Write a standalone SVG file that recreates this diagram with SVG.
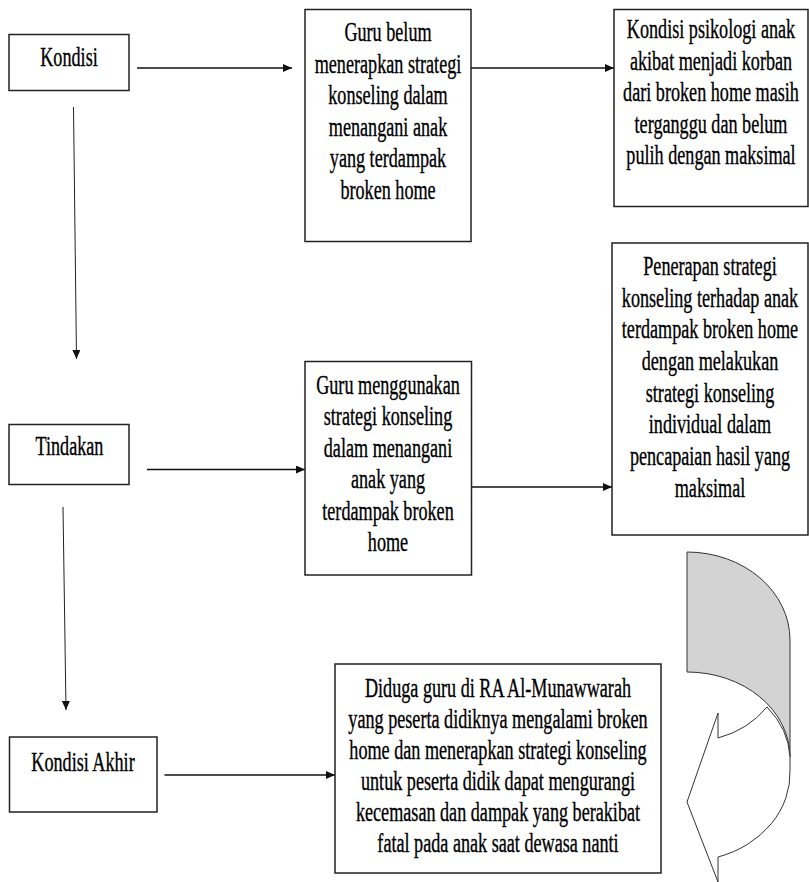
<svg xmlns="http://www.w3.org/2000/svg" width="809" height="882" viewBox="0 0 809 882">
<defs>
<style>
.box{fill:#fff;stroke:#222;stroke-width:1.5}
.t{font-family:'Liberation Serif','Times New Roman',serif;font-size:26.5px;fill:#000;stroke:#000;stroke-width:0.35;text-anchor:middle}
.c{stroke:#111;stroke-width:1.5;fill:none}
.cv{stroke:#222;stroke-width:1;fill:none}
</style>
<marker id="ah" viewBox="0 0 9 8" refX="9" refY="4" markerWidth="9" markerHeight="8" markerUnits="userSpaceOnUse" orient="auto">
<path d="M0,0 L9,4 L0,8 z" fill="#111"/>
</marker>
</defs>
<rect width="809" height="882" fill="#fff"/>

<g id="connectors">
<line class="c" x1="137" y1="68" x2="292" y2="68" marker-end="url(#ah)"/>
<line class="c" x1="471" y1="68" x2="614" y2="68" marker-end="url(#ah)"/>
<line class="cv" x1="73.5" y1="107" x2="76.5" y2="359" marker-end="url(#ah)"/>
<line class="c" x1="147" y1="469.5" x2="305" y2="469.5" marker-end="url(#ah)"/>
<line class="c" x1="471.5" y1="487" x2="612" y2="487" marker-end="url(#ah)"/>
<line class="cv" x1="63" y1="507" x2="66" y2="710" marker-end="url(#ah)"/>
<line class="c" x1="164.5" y1="775" x2="335" y2="775" marker-end="url(#ah)"/>
</g>

<g id="kondisi">
<rect class="box" x="9" y="34.5" width="120" height="56"/>
<g transform="matrix(0.685 0 0 1 69 0)"><text class="t" x="0" y="66.5">Kondisi</text></g>
</g>

<g id="guru-belum">
<rect class="box" x="305" y="9.5" width="166" height="232"/>
<g transform="matrix(0.685 0 0 1 388 0)">
<text class="t" x="0" y="41.5">Guru belum</text>
<text class="t" x="0" y="73">menerapkan strategi</text>
<text class="t" x="0" y="104.5">konseling dalam</text>
<text class="t" x="0" y="136">menangani anak</text>
<text class="t" x="0" y="167.5">yang terdampak</text>
<text class="t" x="0" y="199">broken home</text>
</g>
</g>

<g id="kondisi-psikologi">
<rect class="box" x="614" y="9.5" width="194" height="197"/>
<g transform="matrix(0.685 0 0 1 711 0)">
<text class="t" x="0" y="38.5">Kondisi psikologi anak</text>
<text class="t" x="0" y="70">akibat menjadi korban</text>
<text class="t" x="0" y="101.5">dari broken home masih</text>
<text class="t" x="0" y="133">terganggu dan belum</text>
<text class="t" x="0" y="164.5">pulih dengan maksimal</text>
</g>
</g>

<g id="tindakan">
<rect class="box" x="9" y="424.5" width="120" height="60"/>
<g transform="matrix(0.685 0 0 1 69.5 0)"><text class="t" x="0" y="455">Tindakan</text></g>
</g>

<g id="guru-menggunakan">
<rect class="box" x="305" y="361.5" width="166.5" height="213.5"/>
<g transform="matrix(0.685 0 0 1 388 0)">
<text class="t" x="0" y="394">Guru menggunakan</text>
<text class="t" x="0" y="425.5">strategi konseling</text>
<text class="t" x="0" y="457">dalam menangani</text>
<text class="t" x="0" y="488.5">anak yang</text>
<text class="t" x="0" y="520">terdampak broken</text>
<text class="t" x="0" y="551.5">home</text>
</g>
</g>

<g id="penerapan">
<rect class="box" x="612" y="243" width="196" height="292"/>
<g transform="matrix(0.685 0 0 1 710 0)">
<text class="t" x="0" y="275">Penerapan strategi</text>
<text class="t" x="0" y="306.7">konseling terhadap anak</text>
<text class="t" x="0" y="338.3">terdampak broken home</text>
<text class="t" x="0" y="370">dengan melakukan</text>
<text class="t" x="0" y="401.7">strategi konseling</text>
<text class="t" x="0" y="433.3">individual dalam</text>
<text class="t" x="0" y="465">pencapaian hasil yang</text>
<text class="t" x="0" y="496.7">maksimal</text>
</g>
</g>

<g id="kondisi-akhir">
<rect class="box" x="9.5" y="737" width="147.5" height="75"/>
<g transform="matrix(0.685 0 0 1 83 0)"><text class="t" x="0" y="771">Kondisi Akhir</text></g>
</g>

<g id="diduga">
<rect class="box" x="335" y="664" width="326" height="209"/>
<g transform="matrix(0.685 0 0 1 498 0)">
<text class="t" x="0" y="696.7">Diduga guru di RA Al-Munawwarah</text>
<text class="t" x="0" y="727.7">yang peserta didiknya mengalami broken</text>
<text class="t" x="0" y="759">home dan menerapkan strategi konseling</text>
<text class="t" x="0" y="790">untuk peserta didik dapat mengurangi</text>
<text class="t" x="0" y="821">kecemasan dan dampak yang berakibat</text>
<text class="t" x="0" y="852">fatal pada anak saat dewasa nanti</text>
</g>
</g>

<g id="cycle-arrow" stroke="#333" stroke-width="1">
<path d="M687,552 A103,88 0 0 1 790,640 L790,757 A103,85 0 0 0 687,672 Z" fill="#d3d3d3"/>
<path d="M718,738 Q748,730 767,707 A103,85 0 0 1 790,757 L790,770 A103,88 0 0 1 718,857 L718,882 L687,802 L718,713 Z" fill="#fff"/>
</g>
</svg>
